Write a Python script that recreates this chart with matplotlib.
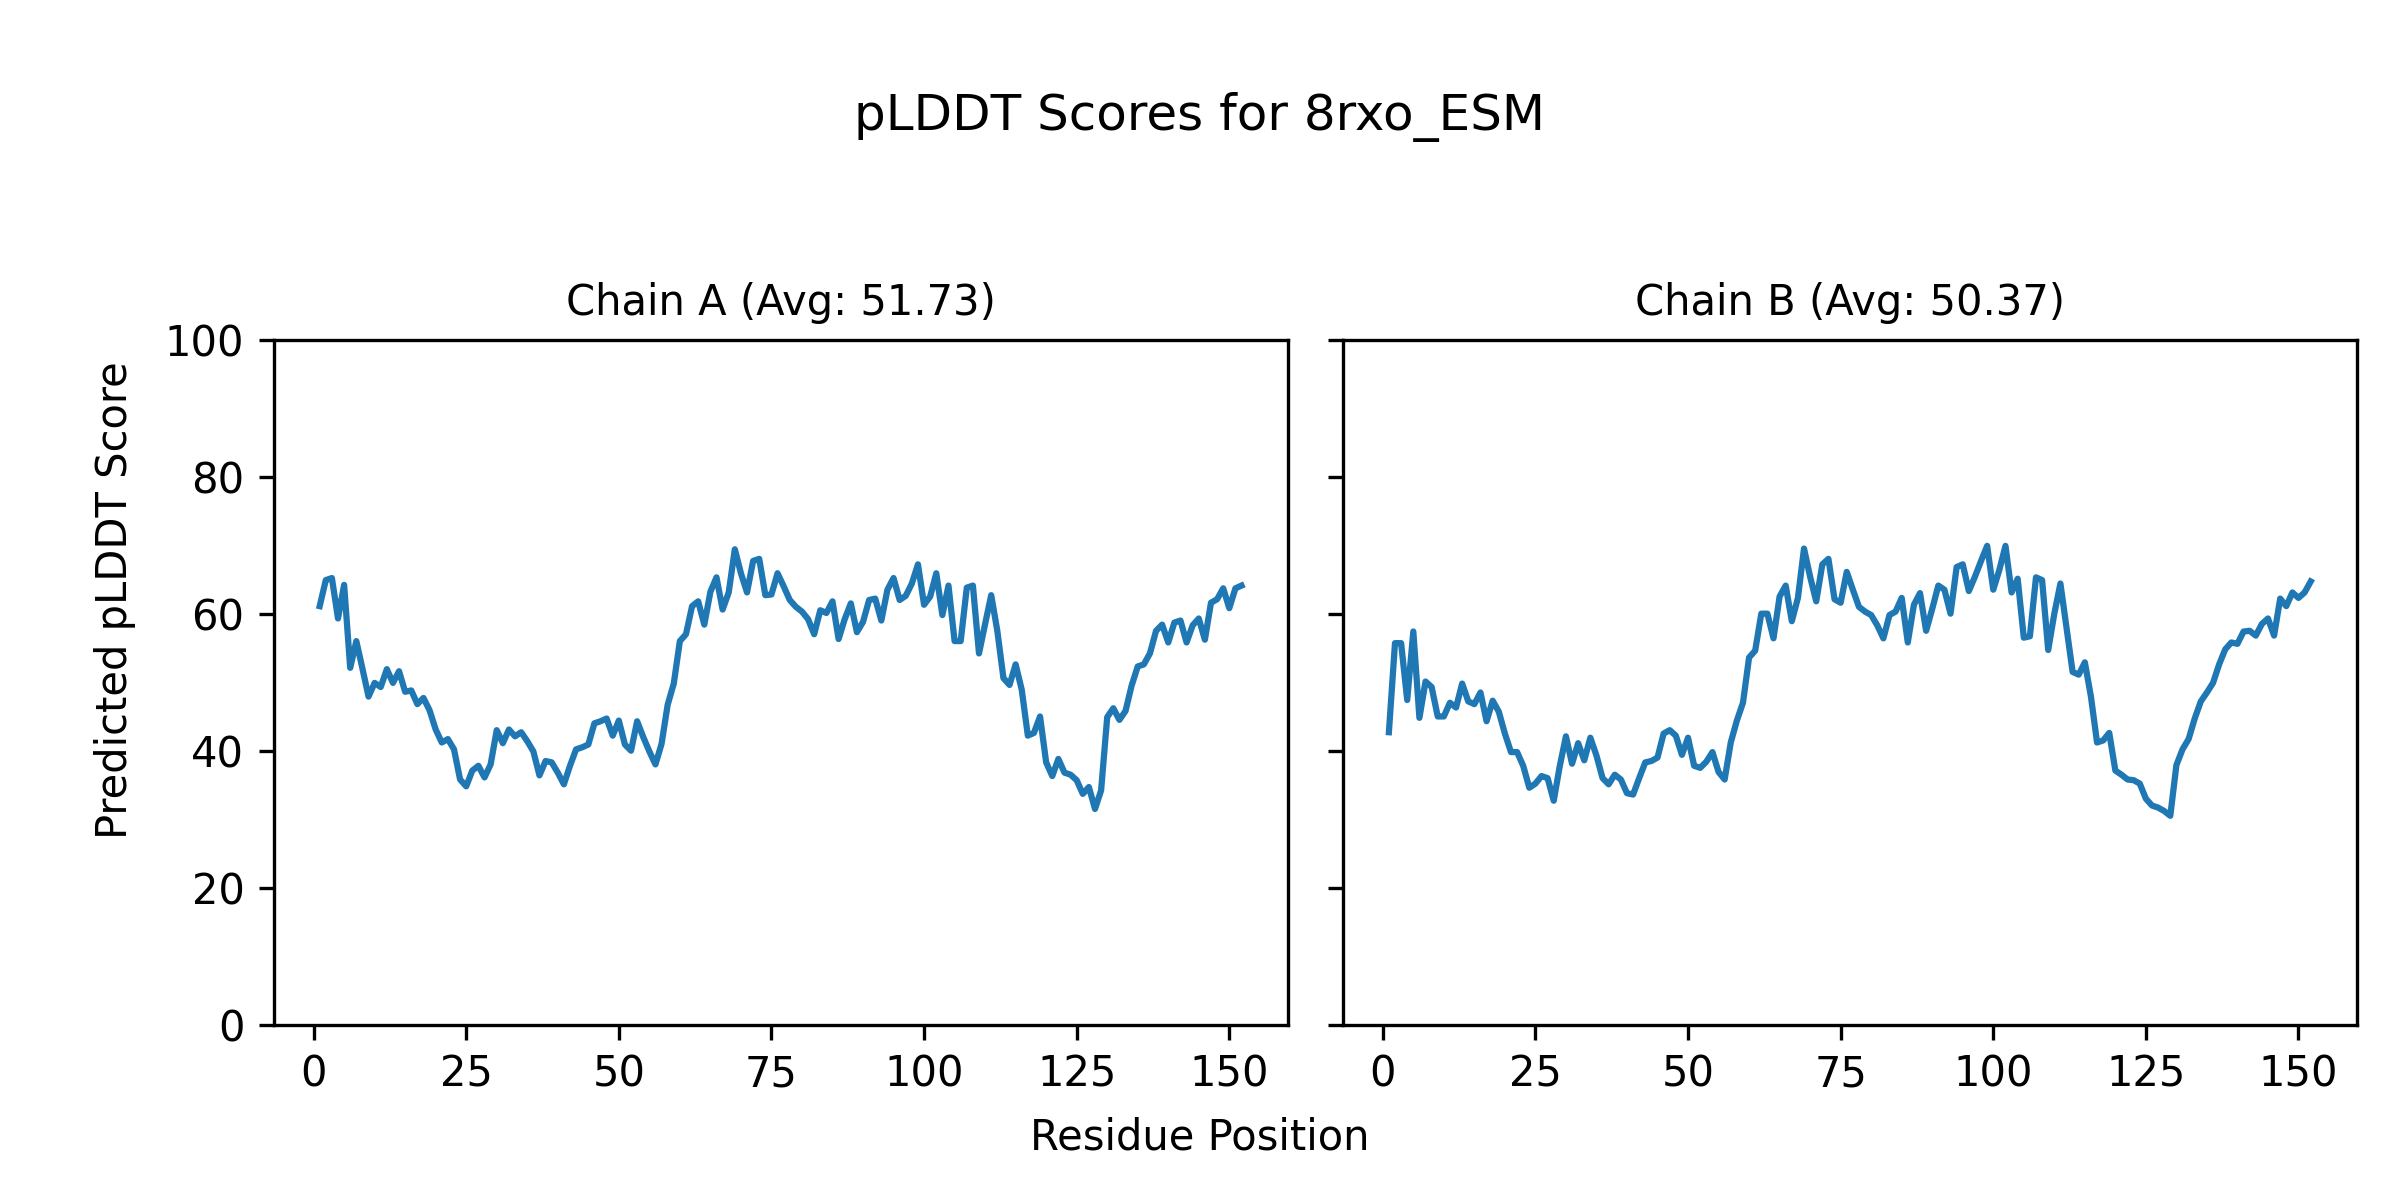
import matplotlib
matplotlib.use("Agg")
import matplotlib.pyplot as plt

chain_a = [
    61.1, 64.9, 65.2, 59.3, 64.2, 52.1, 56.0, 52.0, 47.9, 49.9,
    49.3, 51.9, 49.9, 51.6, 48.6, 48.8, 46.8, 47.7, 45.9, 43.1,
    41.2, 41.7, 40.2, 35.8, 34.8, 37.1, 37.8, 36.1, 38.0, 43.0,
    41.1, 43.1, 42.1, 42.7, 41.4, 39.9, 36.4, 38.5, 38.3, 36.8,
    35.1, 37.8, 40.2, 40.5, 40.9, 44.0, 44.3, 44.7, 42.2, 44.4,
    40.9, 40.0, 44.3, 42.0, 39.9, 38.0, 41.0, 46.7, 49.8, 56.0,
    57.0, 61.1, 61.8, 58.4, 63.2, 65.3, 60.6, 63.1, 69.4, 65.9,
    63.1, 67.7, 68.0, 62.7, 62.8, 65.9, 64.0, 62.0,
    61.0, 60.3, 59.2, 57.0, 60.5, 60.1, 61.8, 56.3, 59.2, 61.5,
    57.3, 58.8, 62.0, 62.2, 59.0, 63.5, 65.2, 62.0, 62.6, 64.4,
    67.2, 61.3, 62.5, 65.9, 59.8, 64.1, 56.0, 56.0, 63.8, 64.1,
    54.2, 58.5, 62.7, 57.5, 50.6, 49.6, 52.6, 48.9, 42.2, 42.6,
    45.0, 38.3, 36.3, 38.8, 36.8, 36.5, 35.7, 33.7, 34.7, 31.5,
    34.2, 44.9, 46.2, 44.5, 45.8, 49.5, 52.3, 52.6, 54.2, 57.5,
    58.4, 55.8, 58.7, 59.0, 55.8, 58.3, 59.3, 56.2, 61.6, 62.1,
    63.7, 60.8, 63.7, 64.1,
]

chain_b = [
    42.7, 55.7, 55.7, 47.4, 57.4, 44.8, 50.1, 49.3, 45.0, 45.0,
    47.0, 46.3, 49.8, 47.2, 46.8, 48.5, 44.3, 47.3, 45.7, 42.5,
    39.8, 39.8, 37.8, 34.6, 35.2, 36.3, 36.0, 32.7, 37.8, 42.1,
    38.1, 41.1, 38.6, 41.9, 39.3, 36.0, 35.1, 36.5, 35.8, 33.8,
    33.6, 36.0, 38.3, 38.5, 39.0, 42.5, 43.0, 42.2, 39.4, 41.9,
    37.8, 37.5, 38.4, 39.8, 36.9, 35.8, 41.2, 44.4, 47.0, 53.6,
    54.6, 60.0, 60.0, 56.4, 62.5, 64.1, 58.9, 62.3, 69.5, 65.4,
    61.8, 67.2, 68.0, 62.1, 61.6, 66.1, 63.5, 61.0,
    60.3, 59.8, 58.3, 56.4, 59.8, 60.3, 62.3, 55.8, 61.3, 63.0,
    57.5, 60.7, 64.1, 63.5, 60.0, 66.8, 67.2, 63.3, 65.4, 67.7,
    69.9, 63.5, 66.4, 69.9, 63.1, 65.1, 56.5, 56.7, 65.3, 64.9,
    54.7, 60.0, 64.4, 58.0, 51.5, 51.1, 52.9, 47.9, 41.2, 41.5,
    42.6, 37.1, 36.5, 35.8, 35.7, 35.2, 33.0, 32.0, 31.7, 31.2,
    30.5, 37.9, 40.2, 41.7, 44.7, 47.2, 48.5, 49.9, 52.6, 54.8,
    55.8, 55.6, 57.4, 57.5, 56.8, 58.5, 59.3, 56.8, 62.2, 61.1,
    63.1, 62.3, 63.1, 64.7,
]

titles = ["Chain A (Avg: 51.73)", "Chain B (Avg: 50.37)"]

residues_a = list(range(1, len(chain_a) + 1))
residues_b = list(range(1, len(chain_b) + 1))

fig = plt.figure(figsize=(8, 4), dpi=300)
ax_a = fig.add_axes([0.114, 0.146, 0.4225, 0.571])
ax_b = fig.add_axes([0.5595, 0.146, 0.4225, 0.571], sharey=ax_a)

ax_a.plot(residues_a, chain_a, color="#1f77b4", linewidth=1.5)
ax_b.plot(residues_b, chain_b, color="#1f77b4", linewidth=1.5)

ax_a.set_ylim(0, 100)
ax_a.set_title(titles[0], fontsize=10)
ax_b.set_title(titles[1], fontsize=10)
ax_b.tick_params(labelleft=False)

fig.suptitle("pLDDT Scores for 8rxo_ESM", fontsize=12, y=0.9025, va="center")
fig.supxlabel("Residue Position", fontsize=10, y=0.0525, va="center")
fig.supylabel("Predicted pLDDT Score", fontsize=10, x=0.048, ha="center", va="center")

fig.savefig("out.png", dpi=300)
